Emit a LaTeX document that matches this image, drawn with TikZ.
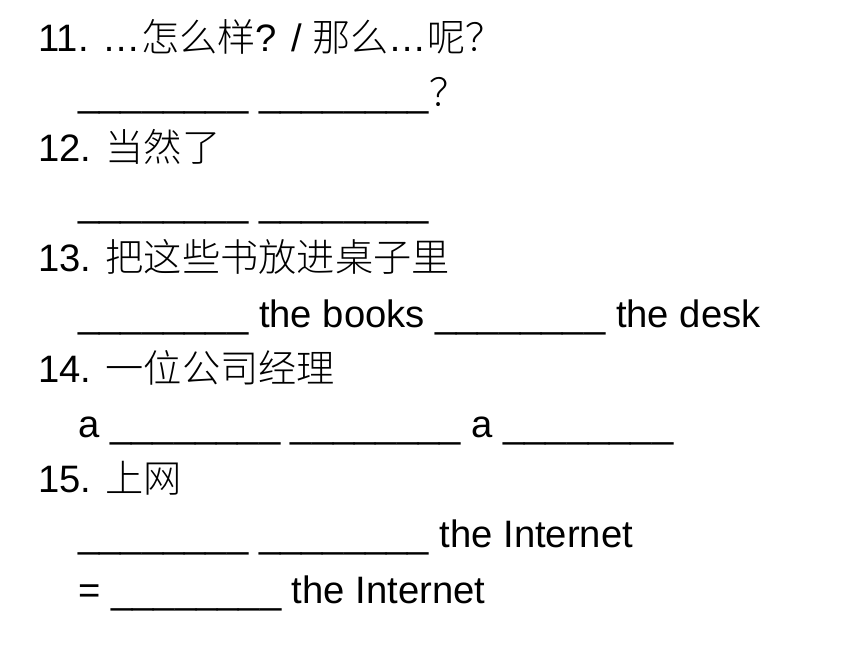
\documentclass[tikz,border=0pt]{standalone}
\usepackage{fontspec}
\setmainfont{Liberation Sans}
\newfontfamily\cjk{Noto Sans CJK SC}[UprightFont=* Light]
\newcommand{\zh}[1]{{\cjk #1}}
\newcommand{\blank}{\_\_\_\_\_\_\_\_}
\tikzset{every picture/.style={line width=0.75pt}}
\tikzset{row/.style={anchor=base west, inner sep=0pt, font=\fontsize{32}{38}\selectfont}}

\begin{document}
\begin{tikzpicture}[x=0.8372pt,y=0.8372pt,yscale=-1,xscale=1]
	\path (0,0) rectangle (860,645); %slide is 860 x 645

	% Text Node
	\node [row] (q11) at (38,51) {11. …\zh{怎么样}? / \zh{那么}…\zh{呢？}};
	% Text Node
	\node [row] (a11) at (78,106.2) {\blank{} \blank\zh{？}};
	% Text Node
	\node [row] (q12) at (38,161.4) {12. \zh{当然了}};
	% Text Node
	\node [row] (a12) at (78,216.6) {\blank{} \blank};
	% Text Node
	\node [row] (q13) at (38,271.8) {13. \zh{把这些书放进桌子里}};
	% Text Node
	\node [row] (a13) at (78,327) {\blank{} the books \blank{} the desk};
	% Text Node
	\node [row] (q14) at (38,382.2) {14. \zh{一位公司经理}};
	% Text Node
	\node [row] (a14) at (78,437.4) {a \blank{} \blank{} a \blank};
	% Text Node
	\node [row] (q15) at (38,492.6) {15. \zh{上网}};
	% Text Node
	\node [row] (a15) at (78,547.8) {\blank{} \blank{} the Internet};
	% Text Node
	\node [row] (b15) at (78,603) {= \blank{} the Internet};

\end{tikzpicture}
\end{document}
